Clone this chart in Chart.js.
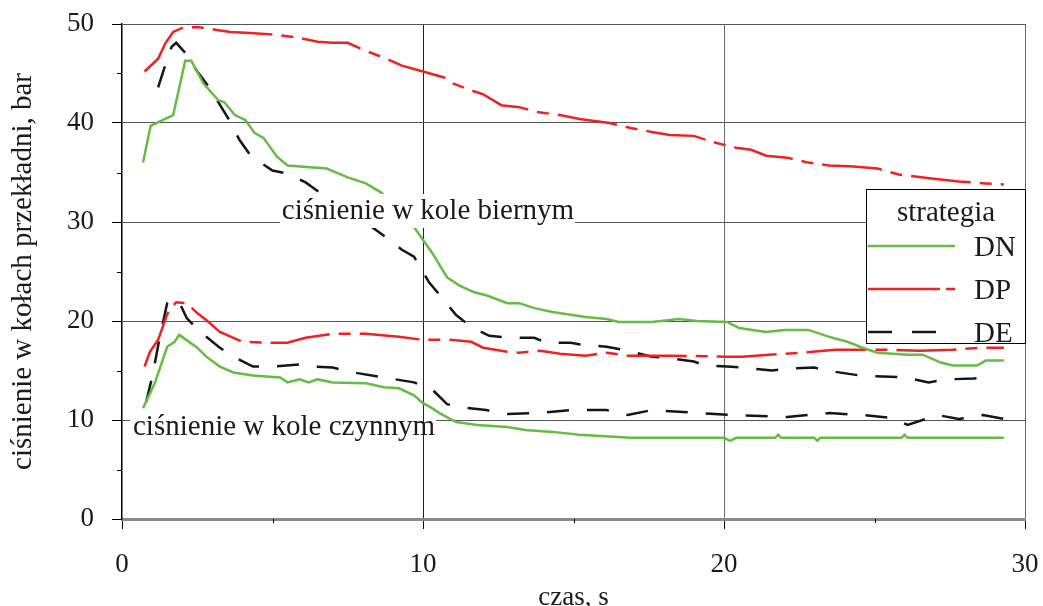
<!DOCTYPE html>
<html lang="pl">
<head>
  <meta charset="UTF-8">
  <title>ciśnienie w kołach przekładni</title>
  <script src="https://cdn.jsdelivr.net/npm/chart.js"></script>
  <style>
    body { margin: 0; background: #fff; }
  </style>
</head>
<body>
  <canvas id="chart" width="1043" height="606"></canvas>

  <script>
    // czas [s] i ciśnienie [bar]
    const dnBiernyT = [0.7, 0.95, 1.7, 2.1, 2.3, 2.7, 3.2, 3.4, 3.75, 4.1, 4.4, 4.7, 5.15, 5.5, 6.8, 7.5, 8.1, 8.6, 9.2, 9.7, 10.3, 10.8, 11.2, 11.7, 12.1, 12.8, 13.2, 13.7, 14.3, 15.4, 16.1, 16.5, 17.6, 18.5, 19.1, 20.1, 20.5, 21.4, 22.0, 22.8, 23.5, 24.1, 24.6, 25.1, 26.1, 26.6, 27.2, 27.6, 28.4, 28.7, 29.3];
    const dnBiernyP = [36.0, 39.7, 40.8, 46.3, 46.3, 44.0, 42.3, 42.1, 40.8, 40.3, 39.0, 38.5, 36.6, 35.7, 35.4, 34.5, 33.9, 33.0, 31.2, 29.5, 26.9, 24.4, 23.6, 22.9, 22.6, 21.8, 21.8, 21.3, 20.9, 20.4, 20.2, 19.9, 19.9, 20.2, 20.0, 19.9, 19.3, 18.9, 19.1, 19.1, 18.4, 17.9, 17.3, 16.8, 16.6, 16.6, 15.8, 15.5, 15.5, 16.0, 16.0];

    const dnCzynnyT = [0.7, 1.1, 1.5, 1.75, 1.9, 2.5, 2.8, 3.25, 3.7, 4.35, 5.25, 5.5, 5.9, 6.2, 6.5, 7.0, 8.1, 8.7, 9.2, 9.7, 10.0, 10.3, 10.55, 11.1, 11.8, 12.8, 13.4, 14.3, 15.2, 16.9, 20.0, 20.2, 20.4, 21.7, 21.8, 21.9, 23.0, 23.1, 23.2, 25.9, 26.0, 26.1, 29.3];
    const dnCzynnyP = [11.2, 13.8, 17.4, 17.9, 18.6, 17.3, 16.4, 15.4, 14.8, 14.5, 14.3, 13.8, 14.1, 13.8, 14.1, 13.8, 13.7, 13.3, 13.2, 12.5, 11.7, 11.2, 10.7, 9.8, 9.5, 9.3, 9.0, 8.8, 8.5, 8.2, 8.2, 7.9, 8.2, 8.2, 8.5, 8.2, 8.2, 7.9, 8.2, 8.2, 8.5, 8.2, 8.2];

    const dpBiernyT = [0.75, 1.2, 1.45, 1.7, 2.0, 2.5, 3.15, 3.6, 4.25, 5.15, 5.9, 6.5, 7.0, 7.5, 8.0, 8.7, 9.3, 10.0, 10.7, 11.0, 11.5, 12.0, 12.6, 13.2, 13.8, 14.55, 15.2, 16.2, 16.9, 17.6, 18.2, 19.0, 19.6, 20.4, 20.9, 21.4, 22.1, 22.8, 23.5, 24.3, 25.1, 25.8, 26.9, 27.8, 28.7, 29.3];
    const dpBiernyP = [45.2, 46.5, 48.1, 49.2, 49.6, 49.7, 49.4, 49.2, 49.1, 48.9, 48.6, 48.2, 48.1, 48.1, 47.4, 46.6, 45.8, 45.2, 44.6, 44.0, 43.4, 42.9, 41.8, 41.6, 41.1, 40.8, 40.4, 40.0, 39.5, 39.1, 38.8, 38.7, 38.1, 37.5, 37.3, 36.7, 36.5, 36.0, 35.7, 35.6, 35.4, 34.8, 34.4, 34.1, 33.9, 33.8];

    const dpCzynnyT = [0.75, 0.93, 1.2, 1.55, 1.8, 2.15, 2.5, 2.8, 3.25, 3.7, 4.0, 4.8, 5.5, 6.1, 7.0, 8.1, 9.2, 10.0, 10.9, 11.6, 12.0, 12.8, 13.2, 13.9, 14.55, 15.4, 16.1, 16.8, 18.3, 20.1, 20.6, 21.5, 22.6, 23.7, 25.4, 26.5, 27.6, 28.5, 29.3];
    const dpCzynnyP = [15.4, 16.9, 18.1, 21.1, 21.9, 21.8, 20.8, 20.1, 18.9, 18.3, 17.9, 17.8, 17.8, 18.3, 18.7, 18.7, 18.4, 18.1, 18.1, 17.9, 17.3, 16.9, 16.8, 17.0, 16.7, 16.5, 16.8, 16.5, 16.5, 16.4, 16.4, 16.6, 16.8, 17.1, 17.1, 17.0, 17.1, 17.3, 17.3];

    const deBiernyT = [1.2, 1.4, 1.65, 1.8, 2.1, 2.5, 2.9, 3.3, 3.6, 3.9, 4.3, 5.0, 5.5, 6.1, 6.6, 7.5, 8.3, 8.8, 9.3, 9.7, 10.2, 10.7, 11.1, 11.6, 12.2, 12.9, 13.7, 14.1, 14.9, 15.3, 16.1, 16.8, 17.6, 18.3, 19.0, 19.4, 20.1, 20.6, 21.6, 22.1, 23.0, 23.4, 24.5, 26.0, 26.8, 27.4, 28.3, 28.8];
    const deBiernyP = [43.6, 45.5, 47.7, 48.1, 47.1, 45.2, 43.6, 41.6, 40.1, 38.3, 36.6, 35.2, 34.9, 34.0, 32.9, 31.3, 29.5, 28.4, 27.2, 26.5, 23.9, 22.1, 20.6, 19.4, 18.5, 18.3, 18.3, 17.8, 17.8, 17.6, 17.4, 17.0, 16.4, 16.2, 15.9, 15.5, 15.4, 15.3, 15.0, 15.2, 15.3, 15.0, 14.5, 14.3, 13.8, 14.1, 14.2, 14.3];

    const deCzynnyT = [0.8, 1.0, 1.25, 1.5, 1.6, 1.9, 2.15, 2.6, 3.25, 3.7, 4.35, 5.0, 5.9, 6.35, 7.0, 7.7, 8.9, 9.7, 10.1, 10.3, 10.8, 11.2, 12.1, 12.8, 13.8, 14.9, 16.1, 16.8, 17.6, 19.2, 20.3, 22.1, 23.5, 24.6, 25.6, 26.1, 27.1, 27.8, 28.6, 29.5, 29.7];
    const deCzynnyP = [11.8, 14.3, 18.3, 21.8, 22.2, 21.9, 20.3, 18.9, 17.3, 16.4, 15.4, 15.4, 15.6, 15.4, 15.3, 14.8, 14.2, 13.8, 13.3, 13.1, 11.6, 11.3, 11.0, 10.6, 10.7, 11.0, 11.0, 10.5, 11.0, 10.7, 10.5, 10.3, 10.7, 10.5, 10.2, 9.5, 10.5, 10.1, 10.5, 10.0, 9.8];

    const strategies = ['DN', 'DP', 'DE'];
    const xTicks = [0, 10, 20, 30];
    const yTicks = [0, 10, 20, 30, 40, 50];

    const SERIF = "'Liberation Serif', 'Times New Roman', serif";
    const GREEN = '#66bb44';
    const RED = '#ee2222';
    const BLACK = '#151515';
    const dashDP = [60, 9, 12, 9];
    const dashDE = [22, 18];

    const pts = (t, p) => t.map((v, i) => ({ x: v, y: p[i] }));
    const line = (label, t, p, color, dash) => ({
      label, data: pts(t, p), borderColor: color, borderWidth: 2.5,
      borderDash: dash, pointRadius: 0, showLine: true, tension: 0, fill: false
    });

    const datasets = [
      line('DN', dnBiernyT, dnBiernyP, GREEN, []),
      line('DN', dnCzynnyT, dnCzynnyP, GREEN, []),
      line('DP', dpBiernyT, dpBiernyP, RED, dashDP),
      line('DP', dpCzynnyT, dpCzynnyP, RED, dashDP),
      line('DE', deBiernyT, deBiernyP, BLACK, dashDE),
      line('DE', deCzynnyT, deCzynnyP, BLACK, dashDE),
    ];

    // krótkie podziałki, podpisy i legenda
    const overlay = {
      id: 'overlay',
      afterDatasetsDraw(chart) {
        const { ctx, scales: { x, y } } = chart;
        ctx.save();

        // minor ticks
        ctx.strokeStyle = '#000';
        ctx.lineWidth = 1;
        [5, 15, 25].forEach(v => {
          const px = Math.round(x.getPixelForValue(v)) + 0.5;
          ctx.beginPath(); ctx.moveTo(px, y.bottom); ctx.lineTo(px, y.bottom + 4); ctx.stroke();
        });
        [5, 15, 25, 35, 45].forEach(v => {
          const py = Math.round(y.getPixelForValue(v)) + 0.5;
          ctx.beginPath(); ctx.moveTo(x.left - 5, py); ctx.lineTo(x.left, py); ctx.stroke();
        });

        // text boxes
        ctx.font = '29px ' + SERIF;
        ctx.textAlign = 'center';
        ctx.textBaseline = 'alphabetic';
        ctx.fillStyle = '#fff';
        ctx.fillRect(280, 194, 295, 34);
        ctx.fillRect(130, 412, 306, 34);
        ctx.strokeStyle = '#222';
        const g10 = Math.round(x.getPixelForValue(10)) + 0.5;
        ctx.beginPath(); ctx.moveTo(g10, 412); ctx.lineTo(g10, 446); ctx.stroke();
        ctx.fillStyle = '#1a1a1a';
        ctx.fillText('ciśnienie w kole biernym', 428, 219);
        ctx.fillText('ciśnienie w kole czynnym', 284, 435);

        // legend
        const lx = 866, ly = 189, lw = 159, lh = 154;
        ctx.fillStyle = '#fff';
        ctx.fillRect(lx, ly, lw, lh);
        ctx.strokeStyle = '#000';
        ctx.lineWidth = 1;
        ctx.strokeRect(lx + 0.5, ly + 0.5, lw, lh);
        ctx.fillStyle = '#1a1a1a';
        ctx.font = '29px ' + SERIF;
        ctx.fillText('strategia', 946, 221);
        const colors = [GREEN, RED, BLACK];
        const dashes = [[], [72, 6, 10, 6], [24, 20]];
        strategies.forEach((s, i) => {
          const yy = 246 + i * 43;
          ctx.strokeStyle = colors[i];
          ctx.lineWidth = 2.5;
          ctx.setLineDash(dashes[i]);
          ctx.beginPath(); ctx.moveTo(868, yy); ctx.lineTo(955, yy); ctx.stroke();
          ctx.setLineDash([]);
          ctx.font = '29px ' + SERIF;
          ctx.textAlign = 'left';
          ctx.fillText(s, 974, yy + 10);
        });
        ctx.restore();
      }
    };

    new Chart(document.getElementById('chart'), {
      type: 'scatter',
      data: { datasets },
      plugins: [overlay],
      options: {
        responsive: false,
        animation: false,
        layout: { padding: { top: 24, right: 18, left: 0, bottom: 0 } },
        plugins: { legend: { display: false }, tooltip: { enabled: false } },
        scales: {
          x: {
            type: 'linear', min: 0, max: 30,
            afterFit: s => { s.height = 87; s.paddingLeft = 0; s.paddingRight = 0; },
            afterBuildTicks: s => { s.ticks = xTicks.map(v => ({ value: v })); },
            grid: {
              color: c => c.tick.value === 0 ? 'rgba(0,0,0,0)' : (c.tick.value === 10 ? '#222' : '#6a6a6a'),
              tickColor: '#000', tickLength: 10, lineWidth: 1
            },
            border: { color: '#8a8a8a', width: 3 },
            ticks: { color: '#1a1a1a', font: { family: SERIF, size: 27 }, padding: 20, autoSkip: false, maxRotation: 0 },
            title: { display: true, text: 'czas, s', color: '#1a1a1a', font: { family: SERIF, size: 27 }, padding: { top: 0, bottom: -8 } }
          },
          y: {
            type: 'linear', min: 0, max: 50,
            afterFit: s => { s.width = 122; s.paddingTop = 0; s.paddingBottom = 0; },
            afterBuildTicks: s => { s.ticks = yTicks.map(v => ({ value: v })); },
            grid: {
              color: c => c.tick.value === 0 ? 'rgba(0,0,0,0)' : '#555',
              tickColor: '#000', tickLength: 10, lineWidth: 1
            },
            border: { color: '#000', width: 1.5 },
            ticks: { color: '#1a1a1a', font: { family: SERIF, size: 27 }, padding: 18, autoSkip: false },
            title: { display: true, text: 'ciśnienie w kołach przekładni, bar', color: '#1a1a1a', font: { family: SERIF, size: 29 }, padding: { top: 6, bottom: 0 } }
          }
        }
      }
    });
  </script>
</body>
</html>
